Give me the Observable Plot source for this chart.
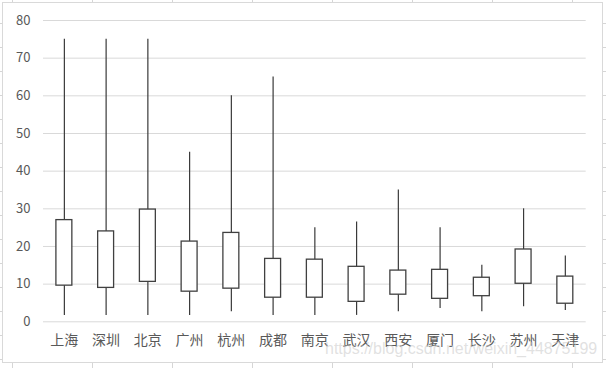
<!DOCTYPE html>
<html>
<head>
<meta charset="utf-8">
<script src="https://cdn.jsdelivr.net/npm/d3@7"></script>
<script src="https://cdn.jsdelivr.net/npm/@observablehq/plot@0.6"></script>
<style>
  html, body { margin: 0; padding: 0; }
  body {
    width: 606px; height: 368px; position: relative; overflow: hidden;
    background-color: #fff;
    background-image:
      linear-gradient(to right, #d6d6d6 1px, transparent 1px),
      linear-gradient(to bottom, #d6d6d6 1px, transparent 1px);
    background-size: 80px 24px;
    background-position: 12px 23px;
  }
  #frame {
    position: absolute; left: 2px; top: 2px; width: 601px; height: 361px;
    box-sizing: border-box; border: 1px solid #d9d9d9; background: #fff;
  }
  #chart { position: absolute; left: 0; top: 0; }
  #chart svg text { opacity: 0.999; }
  #wm {
    position: absolute; left: 325px; top: 340px;
    font-family: "Liberation Sans", Arial, sans-serif; font-size: 16px;
    color: rgba(200,200,200,0.55); white-space: nowrap; pointer-events: none;
  }
</style>
</head>
<body>
<div id="frame"></div>
<div id="chart"></div>
<div id="wm">https://blog.csdn.net/weixin_44875199</div>
<script>
const cities = ["上海","深圳","北京","广州","杭州","成都","南京","武汉","西安","厦门","长沙","苏州","天津"];
const maxV = [75, 75, 75, 45, 60, 65, 25, 26.5, 35, 25, 15, 30, 17.5];
const q3V  = [27, 24, 29.8, 21.3, 23.6, 16.7, 16.5, 14.6, 13.6, 13.8, 11.7, 19.2, 12];
const q1V  = [9.6, 9, 10.6, 8, 8.8, 6.4, 6.4, 5.3, 7.2, 6.1, 6.8, 10.1, 4.8];
const minV = [1.7, 1.7, 1.7, 1.7, 2.7, 1.7, 1.7, 1.7, 2.7, 3.5, 2.7, 4, 3];
const yTicks = [0, 10, 20, 30, 40, 50, 60, 70, 80];

const data = cities.map((c, i) => ({city: c, max: maxV[i], q3: q3V[i], q1: q1V[i], min: minV[i]}));

const chart = Plot.plot({
  width: 606,
  height: 368,
  marginLeft: 43,
  marginRight: 20.3,
  marginTop: 20,
  marginBottom: 46.7,
  style: {background: "transparent", fontFamily: "'Noto Sans CJK SC', sans-serif", color: "#595959"},
  x: {domain: cities, padding: 0, round: false, label: null},
  y: {domain: [0, 80], ticks: yTicks, label: null},
  marks: [
    Plot.gridY(yTicks, {stroke: "#d9d9d9", strokeOpacity: 1, strokeWidth: 1}),
    Plot.axisY(yTicks, {tickSize: 0, tickPadding: 13, fontSize: 13, fill: "#595959", label: null}),
    Plot.axisX({tickSize: 0, tickPadding: 13, fontSize: 14, fill: "#595959", label: null}),
    Plot.ruleX(data, {x: "city", y1: "min", y2: "max", stroke: "#3a3a3a", strokeWidth: 1.2}),
    Plot.barY(data, {x: "city", y1: "q1", y2: "q3", fill: "#fff", stroke: "#404040", strokeWidth: 1.3, insetLeft: 12.9, insetRight: 12.9})
  ]
});
document.getElementById("chart").appendChild(chart);
</script>
</body>
</html>
